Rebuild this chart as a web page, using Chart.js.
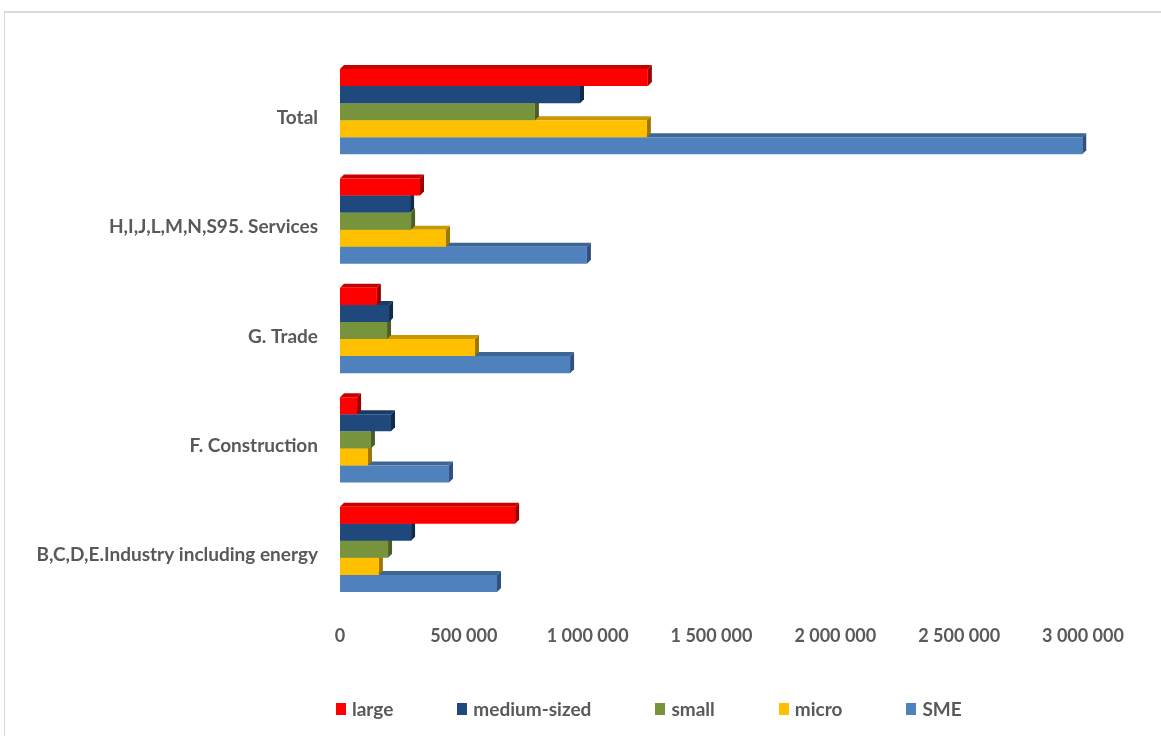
<!DOCTYPE html>
<html>
<head>
<meta charset="utf-8">
<script src="https://cdn.jsdelivr.net/npm/chart.js@4"></script>
<style>
    body { margin: 0; background: #fff; }
    #wrap { position: relative; width: 1161px; height: 736px; overflow: hidden; }
    #frame { position: absolute; left: 4px; top: 11px; width: 1200px; height: 800px;
        border-top: 2px solid #d9d9d9; border-left: 1px solid #d9d9d9; }
    #legend { position: absolute; left: 336px; top: 697px; display: flex; align-items: center;
        font-family: Lato, sans-serif; font-weight: bold; font-size: 19px; color: #595959; }
    #legend .item { display: flex; align-items: center; margin-right: 64px; }
    #legend .box { width: 10px; height: 12px; margin-right: 6px; }
</style>
</head>
<body>
<div id="wrap">
    <div id="frame"></div>
    <canvas id="chart" width="1161" height="736"></canvas>
    <div id="legend"></div>
</div>
<script>
    // du lieu doc tu hinh
    const categories = ['Total', 'H,I,J,L,M,N,S95. Services', 'G. Trade', 'F. Construction', 'B,C,D,E.Industry including energy'];
    const seriesNames = ['large', 'medium-sized', 'small', 'micro', 'SME'];
    const large = [1243000, 323000, 149000, 69000, 707000];
    const medium = [969000, 283000, 198000, 206000, 287000];
    const small = [787000, 287000, 190000, 125000, 194000];
    const micro = [1239000, 428000, 545000, 113000, 157000];
    const sme = [2997000, 997000, 929000, 440000, 634000];
    const xTicks = [0, 500000, 1000000, 1500000, 2000000, 2500000, 3000000];

    const colors = ['#ff0000', '#1f497d', '#77933c', '#ffc000', '#4f81bd'];
    const topColors = ['#c80000', '#183a64', '#5f7630', '#c99700', '#3d6596'];
    const sideColors = ['#9c0000', '#112b4b', '#4b5e26', '#9e7700', '#2f5080'];
    const values = [large, medium, small, micro, sme];

    function fmt(v) {
        return String(v).replace(/\B(?=(\d{3})+(?!\d))/g, ' ');
    }

    // ve mat tren va mat ben cua thanh (gia 3D)
    const depthPlugin = {
        id: 'depth',
        beforeDatasetDraw(chart, args) {
            const ctx = chart.ctx;
            const i = args.index;
            const d = 4;
            ctx.save();
            args.meta.data.forEach(el => {
                const p = el.getProps(['x', 'y', 'base', 'height'], true);
                const top = p.y - p.height / 2;
                const bottom = p.y + p.height / 2;
                ctx.fillStyle = topColors[i];
                ctx.beginPath();
                ctx.moveTo(p.base, top);
                ctx.lineTo(p.base + d, top - d);
                ctx.lineTo(p.x + d, top - d);
                ctx.lineTo(p.x, top);
                ctx.closePath();
                ctx.fill();
                ctx.fillStyle = sideColors[i];
                ctx.beginPath();
                ctx.moveTo(p.x, top);
                ctx.lineTo(p.x + d, top - d);
                ctx.lineTo(p.x + d, bottom - d);
                ctx.lineTo(p.x, bottom);
                ctx.closePath();
                ctx.fill();
            });
            ctx.restore();
        }
    };

    const ctx = document.getElementById('chart').getContext('2d');
    const chart = new Chart(ctx, {
        type: 'bar',
        data: {
            labels: categories,
            datasets: seriesNames.map((name, i) => ({
                label: name,
                data: values[i],
                backgroundColor: colors[i],
                borderWidth: 0,
                categoryPercentage: 0.78,
                barPercentage: 1
            }))
        },
        options: {
            indexAxis: 'y',
            responsive: false,
            animation: false,
            layout: { padding: { top: 57, right: 78, bottom: 82, left: 0 } },
            plugins: {
                legend: { display: false },
                tooltip: { enabled: false }
            },
            scales: {
                x: {
                    min: 0,
                    max: 3000000,
                    grid: { display: false, drawTicks: false },
                    border: { display: false },
                    afterFit: s => { s.height = 50; },
                    afterBuildTicks: s => { s.ticks = xTicks.map(v => ({ value: v })); },
                    ticks: {
                        padding: 21,
                        color: '#595959',
                        font: { family: 'Lato', size: 18, weight: 'bold' },
                        callback: v => fmt(v)
                    }
                },
                y: {
                    grid: { display: false, drawTicks: false },
                    border: { display: false },
                    afterFit: s => { s.width = 340; },
                    ticks: {
                        padding: 22,
                        labelOffset: 6,
                        color: '#595959',
                        font: { family: 'Lato', size: 19, weight: 'bold' }
                    }
                }
            }
        },
        plugins: [depthPlugin]
    });

    // chu thich
    const legend = document.getElementById('legend');
    seriesNames.forEach((name, i) => {
        const item = document.createElement('div');
        item.className = 'item';
        item.innerHTML = '<span class="box" style="background:' + colors[i] + '"></span><span>' + name + '</span>';
        legend.appendChild(item);
    });
</script>
</body>
</html>
